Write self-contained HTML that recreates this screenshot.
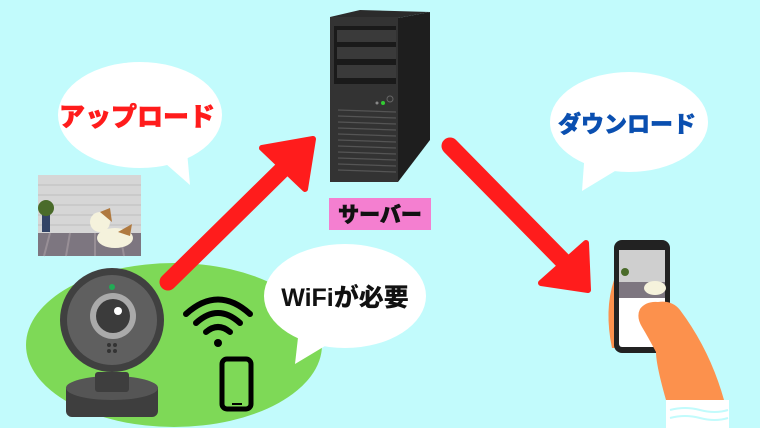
<!DOCTYPE html>
<html><head><meta charset="utf-8"><style>
html,body{margin:0;padding:0;background:#c2fbfc;}
svg{display:block}
text{font-family:"Liberation Sans","Noto Sans CJK JP",sans-serif;font-weight:900}
</style></head><body>
<svg width="760" height="428" viewBox="0 0 760 428" xmlns="http://www.w3.org/2000/svg">
<rect width="760" height="428" fill="#c2fbfc"/>
<ellipse cx="174" cy="345" rx="148" ry="82" fill="#7ed957"/>
<ellipse cx="140" cy="115" rx="82" ry="53" fill="#fff"/>
<polygon points="150,150 190,185 186,140" fill="#fff"/>
<text x="137" y="126" font-size="26" fill="#ff1c1c" text-anchor="middle" stroke="#ff1c1c" stroke-width="0.6">アップロード</text>
<ellipse cx="629" cy="122" rx="79" ry="50" fill="#fff"/>
<polygon points="585,150 582,191 620,168" fill="#fff"/>
<text x="627" y="132" font-size="23" fill="#0a4fb0" text-anchor="middle" stroke="#0a4fb0" stroke-width="0.5">ダウンロード</text>
<ellipse cx="345" cy="296" rx="81" ry="52" fill="#fff"/>
<polygon points="300,320 295,364 335,340" fill="#fff"/>
<text x="345" y="306" font-size="25" fill="#111" text-anchor="middle">WiFiが必要</text>
<rect x="38" y="175" width="103" height="58" fill="#d6d6d6"/>
<g stroke="#bdbdbd" stroke-width="1">
<line x1="38" y1="185" x2="141" y2="185"/><line x1="38" y1="195" x2="141" y2="195"/><line x1="38" y1="205" x2="141" y2="205"/><line x1="38" y1="215" x2="141" y2="215"/><line x1="38" y1="225" x2="141" y2="225"/></g>
<rect x="38" y="233" width="103" height="23" fill="#7d7680"/>
<g stroke="#988f96" stroke-width="2"><line x1="50" y1="233" x2="44" y2="256"/><line x1="70" y1="233" x2="66" y2="256"/><line x1="95" y1="233" x2="95" y2="256"/><line x1="120" y1="233" x2="124" y2="256"/></g>
<rect x="42" y="215" width="8" height="17" fill="#334466"/>
<line x1="46" y1="205" x2="46" y2="216" stroke="#553" stroke-width="2"/>
<circle cx="46" cy="208" r="8" fill="#4a6b2a"/>
<ellipse cx="115" cy="238" rx="18" ry="10" fill="#f5f2dc"/>
<ellipse cx="100" cy="222" rx="10" ry="10" fill="#f5f2dc"/>
<path d="M100 212 l10 -4 l2 14 z" fill="#b07a40"/>
<path d="M118 232 l14 -8 l-2 12 z" fill="#b07a40"/>
<g stroke="#ff1c1c" stroke-width="17" stroke-linecap="round" fill="none"><line x1="168" y1="282" x2="290" y2="162"/><line x1="450" y1="146" x2="568" y2="266"/></g>
<polygon points="262,148 313,139 305,189" fill="#ff1c1c" stroke="#ff1c1c" stroke-width="6" stroke-linejoin="round"/>
<polygon points="541,283 588,290 586,243" fill="#ff1c1c" stroke="#ff1c1c" stroke-width="6" stroke-linejoin="round"/>
<polygon points="398,18 430,12 430,140 398,182" fill="#1e1e1e"/>
<polygon points="330,17 360,10 430,12 398,18" fill="#2b2b2b"/>
<rect x="330" y="17" width="68" height="165" fill="#333"/>
<rect x="334" y="26" width="62" height="58" fill="#1a1a1a"/>
<rect x="337" y="30" width="59" height="12" fill="#3a3a3a"/><rect x="337" y="47" width="59" height="12" fill="#3a3a3a"/><rect x="337" y="65" width="59" height="13" fill="#3a3a3a"/>
<circle cx="383" cy="103" r="2" fill="#3c3"/><circle cx="377" cy="103" r="1.5" fill="#888"/><circle cx="390" cy="99" r="3" fill="none" stroke="#666"/>
<g stroke="#555" stroke-width="1.2"><line x1="338" y1="110" x2="396" y2="112"/><line x1="338" y1="116" x2="396" y2="118"/><line x1="338" y1="122" x2="396" y2="124"/><line x1="338" y1="128" x2="396" y2="130"/><line x1="338" y1="134" x2="396" y2="136"/><line x1="338" y1="140" x2="396" y2="142"/><line x1="338" y1="146" x2="396" y2="148"/><line x1="338" y1="152" x2="396" y2="154"/><line x1="338" y1="158" x2="396" y2="160"/><line x1="338" y1="164" x2="396" y2="166"/><line x1="338" y1="170" x2="396" y2="172"/></g>
<rect x="329" y="198" width="102" height="32" fill="#f47fd0"/>
<text x="380" y="222" font-size="21" fill="#111" text-anchor="middle" stroke="#111" stroke-width="0.6">サーバー</text>
<rect x="66" y="383" width="92" height="34" rx="6" fill="#3e3e3e"/>
<ellipse cx="112" cy="388" rx="46" ry="12" fill="#555"/>
<rect x="95" y="372" width="34" height="20" rx="3" fill="#3e3e3e"/>
<circle cx="112" cy="320" r="52" fill="#404040"/>
<circle cx="112" cy="320" r="45" fill="#5f5f5f"/>
<circle cx="113" cy="316" r="23" fill="#aaa"/>
<circle cx="113" cy="316" r="17" fill="#3b3b3b"/>
<circle cx="118" cy="311" r="4" fill="#fff"/>
<circle cx="112" cy="287" r="3" fill="#22aa55"/>
<g fill="#333"><circle cx="109" cy="345" r="2"/><circle cx="115" cy="345" r="2"/><circle cx="109" cy="351" r="2"/><circle cx="115" cy="351" r="2"/></g>
<g stroke="#000" stroke-width="6" fill="none" stroke-linecap="round">
<path d="M186 314 Q218 285 250 314"/><path d="M196 323 Q218 303 240 323"/><path d="M206 332 Q218 322 230 332"/></g>
<circle cx="218" cy="343" r="4" fill="#000"/>
<rect x="222" y="359" width="29" height="50" rx="5" fill="none" stroke="#000" stroke-width="5"/>
<rect x="232" y="403" width="10" height="2" fill="#000"/>
<path d="M614 280 q-10 30 -2 68 l14 0 z" fill="#fc914d"/>
<rect x="614" y="240" width="56" height="113" rx="8" fill="#222"/>
<rect x="619" y="250" width="46" height="97" rx="3" fill="#fff"/>
<rect x="619" y="250" width="46" height="32" fill="#cfcfcf"/>
<rect x="619" y="282" width="46" height="16" fill="#7d7680"/>
<circle cx="625" cy="272" r="4" fill="#4a6b2a"/>
<ellipse cx="655" cy="288" rx="11" ry="7" fill="#f5f2dc"/>
<path d="M658 302 q14 -2 22 8 q30 40 44 90 l-58 0 q-10 -35 -10 -48 q-8 -15 -14 -25 q-6 -10 -2 -18 q6 -8 18 -7 z" fill="#fc914d"/>
<rect x="666" y="400" width="63" height="28" fill="#fff"/>
<path d="M670 410 q15 -4 30 0 t28 0" stroke="#c2fbfc" stroke-width="2" fill="none"/>
<path d="M670 418 q15 -4 30 0 t28 0" stroke="#c2fbfc" stroke-width="2" fill="none"/>
</svg>
</body></html>
